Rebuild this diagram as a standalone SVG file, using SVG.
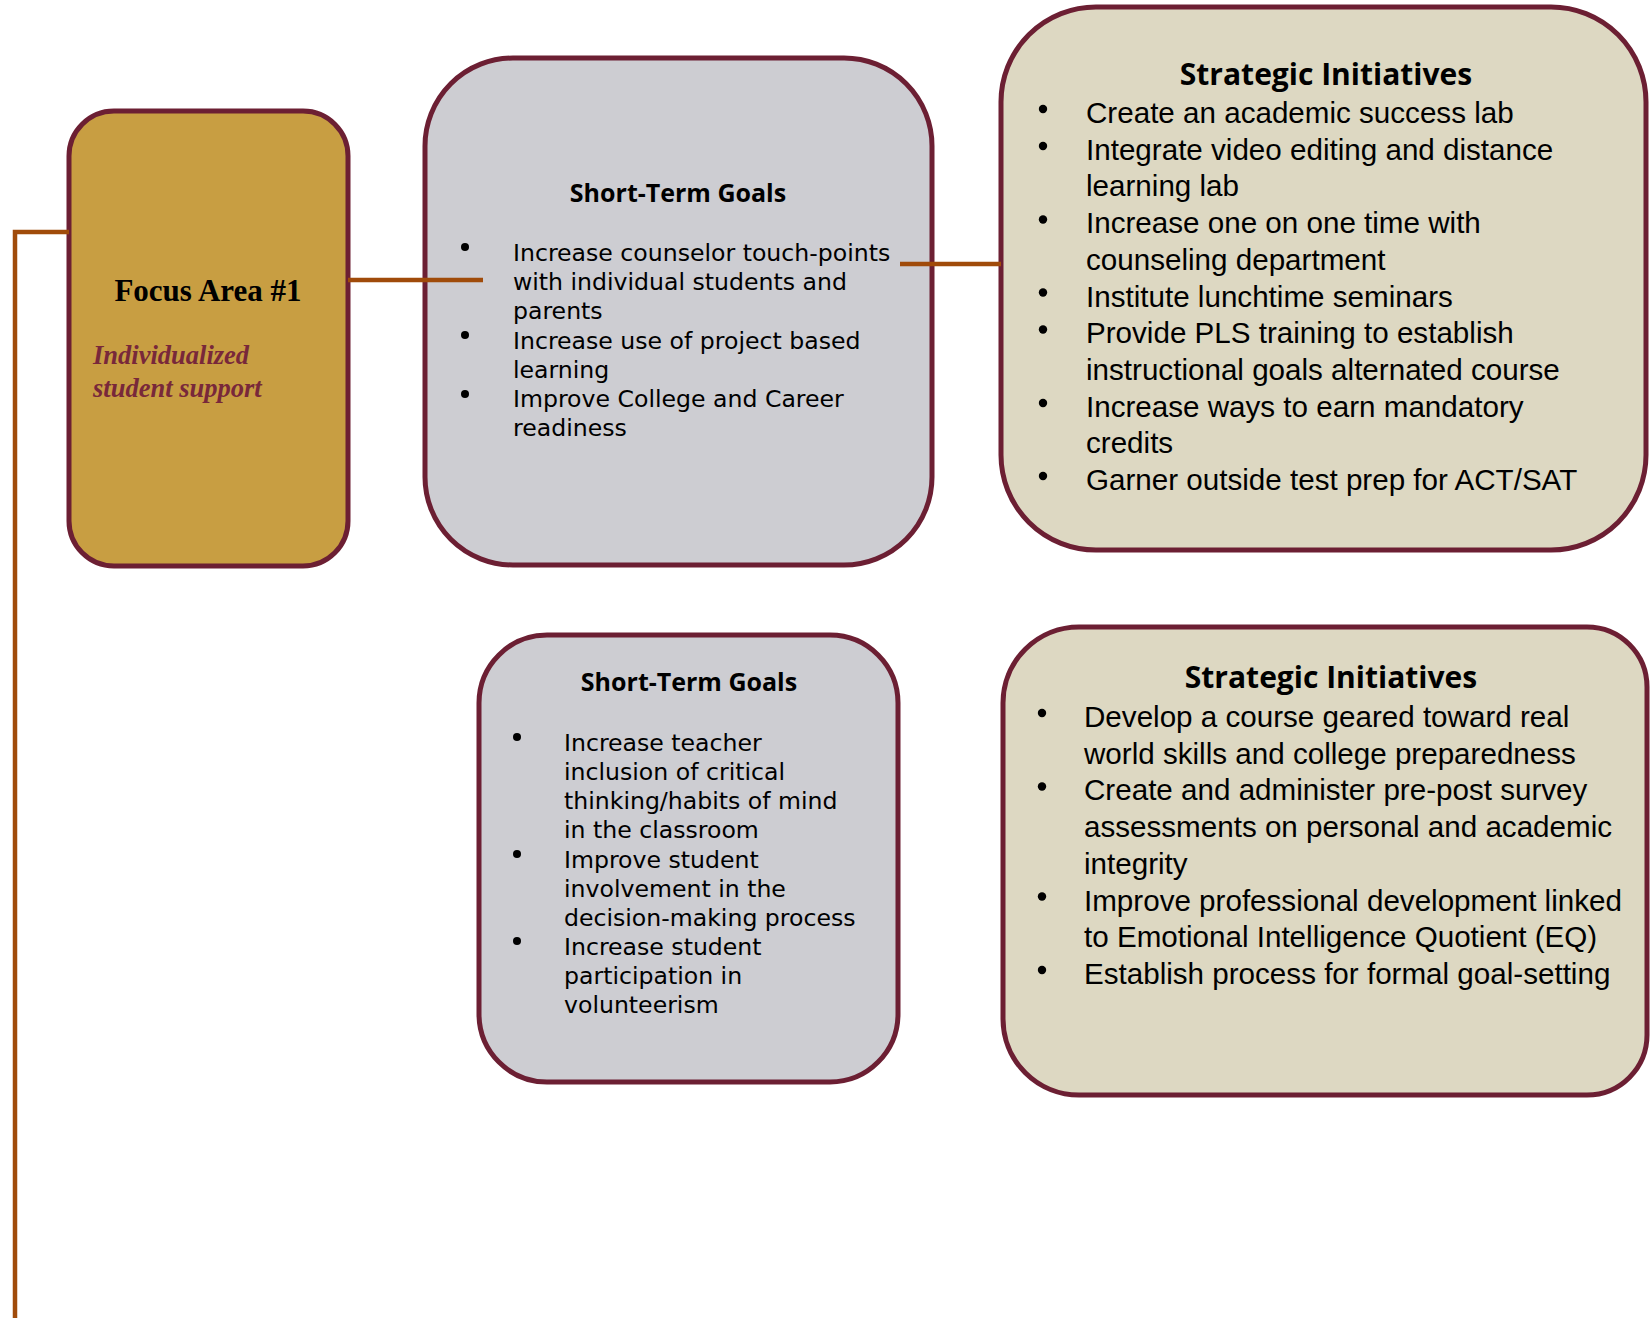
<svg xmlns="http://www.w3.org/2000/svg" width="1650" height="1318" viewBox="0 0 1650 1318">
  <style>
    .box { stroke: #6c1f33; stroke-width: 5; }
    .focus { fill: #c89e42; }
    .goals { fill: #cdcdd2; }
    .strat { fill: #ddd8c2; }
    .conn { fill: none; stroke: #a04b0a; stroke-width: 4.5; }
    .ftitle { font-family: "Liberation Serif", "Times New Roman", serif; font-weight: bold; font-size: 31px; fill: #000; }
    .fsub { font-family: "Liberation Serif", "Times New Roman", serif; font-weight: bold; font-style: italic; font-size: 26.5px; fill: #78283a; }
    .gtitle { font-family: "Open Sans", "Noto Sans", sans-serif; font-weight: bold; font-size: 25px; fill: #000; }
    .gbody { font-family: "DejaVu Sans", "Verdana", sans-serif; font-size: 23.6px; fill: #000; }
    .stitle { font-family: "Open Sans", "Noto Sans", sans-serif; font-weight: bold; font-size: 30px; fill: #000; }
    .sbody { font-family: "Liberation Sans", Arial, sans-serif; font-size: 29.6px; fill: #000; }
    .dot { fill: #000; }
  </style>

  <g id="focus-area-1">
    <rect class="box focus" x="69" y="111" width="279" height="455" rx="45" ry="45"/>
    <text class="ftitle" x="208" y="301" text-anchor="middle">Focus Area #1</text>
    <text class="fsub" x="93" y="364">Individualized</text>
    <text class="fsub" x="93" y="397">student support</text>
  </g>

  <g id="short-term-goals-1">
    <rect class="box goals" x="425" y="58" width="507" height="507" rx="88" ry="88"/>
    <text class="gtitle" x="678" y="202" text-anchor="middle">Short-Term Goals</text>
    <circle class="dot" cx="465" cy="247" r="4"/>
    <circle class="dot" cx="465" cy="335" r="4"/>
    <circle class="dot" cx="465" cy="394" r="4"/>
    <text class="gbody" x="513" y="261">Increase counselor touch-points</text>
    <text class="gbody" x="513" y="290">with individual students and</text>
    <text class="gbody" x="513" y="319">parents</text>
    <text class="gbody" x="513" y="348.5">Increase use of project based</text>
    <text class="gbody" x="513" y="377.5">learning</text>
    <text class="gbody" x="513" y="407">Improve College and Career</text>
    <text class="gbody" x="513" y="436">readiness</text>
  </g>

  <g id="strategic-initiatives-1">
    <rect class="box strat" x="1001" y="7" width="645" height="543" rx="95" ry="95"/>
    <text class="stitle" x="1326" y="85" text-anchor="middle">Strategic Initiatives</text>
    <circle class="dot" cx="1043" cy="109" r="4.2"/>
    <circle class="dot" cx="1043" cy="146" r="4.2"/>
    <circle class="dot" cx="1043" cy="219.5" r="4.2"/>
    <circle class="dot" cx="1043" cy="292.5" r="4.2"/>
    <circle class="dot" cx="1043" cy="329.5" r="4.2"/>
    <circle class="dot" cx="1043" cy="403" r="4.2"/>
    <circle class="dot" cx="1043" cy="476" r="4.2"/>
    <text class="sbody" x="1086" y="123">Create an academic success lab</text>
    <text class="sbody" x="1086" y="159.7">Integrate video editing and distance</text>
    <text class="sbody" x="1086" y="196.4">learning lab</text>
    <text class="sbody" x="1086" y="233.1">Increase one on one time with</text>
    <text class="sbody" x="1086" y="269.8">counseling department</text>
    <text class="sbody" x="1086" y="306.5">Institute lunchtime seminars</text>
    <text class="sbody" x="1086" y="343.2">Provide PLS training to establish</text>
    <text class="sbody" x="1086" y="379.9">instructional goals alternated course</text>
    <text class="sbody" x="1086" y="416.6">Increase ways to earn mandatory</text>
    <text class="sbody" x="1086" y="453.3">credits</text>
    <text class="sbody" x="1086" y="490">Garner outside test prep for ACT/SAT</text>
  </g>

  <g id="short-term-goals-2">
    <rect class="box goals" x="479" y="635" width="419" height="447" rx="68" ry="68"/>
    <text class="gtitle" x="689" y="691" text-anchor="middle">Short-Term Goals</text>
    <circle class="dot" cx="517" cy="737" r="4"/>
    <circle class="dot" cx="517" cy="854" r="4"/>
    <circle class="dot" cx="517" cy="941" r="4"/>
    <text class="gbody" x="564" y="751">Increase teacher</text>
    <text class="gbody" x="564" y="780">inclusion of critical</text>
    <text class="gbody" x="564" y="809">thinking/habits of mind</text>
    <text class="gbody" x="564" y="838">in the classroom</text>
    <text class="gbody" x="564" y="868">Improve student</text>
    <text class="gbody" x="564" y="897">involvement in the</text>
    <text class="gbody" x="564" y="926">decision-making process</text>
    <text class="gbody" x="564" y="955">Increase student</text>
    <text class="gbody" x="564" y="984">participation in</text>
    <text class="gbody" x="564" y="1013">volunteerism</text>
  </g>

  <g id="strategic-initiatives-2">
    <path class="box strat" d="M 1079 627 H 1587 A 60 60 0 0 1 1647 687 V 1035 A 60 60 0 0 1 1587 1095 H 1079 A 76 76 0 0 1 1003 1019 V 703 A 76 76 0 0 1 1079 627 Z"/>
    <text class="stitle" x="1331" y="688" text-anchor="middle">Strategic Initiatives</text>
    <circle class="dot" cx="1042" cy="713" r="4.2"/>
    <circle class="dot" cx="1042" cy="786.5" r="4.2"/>
    <circle class="dot" cx="1042" cy="896.5" r="4.2"/>
    <circle class="dot" cx="1042" cy="970" r="4.2"/>
    <text class="sbody" x="1084" y="727">Develop a course geared toward real</text>
    <text class="sbody" x="1084" y="763.7">world skills and college preparedness</text>
    <text class="sbody" x="1084" y="800.4">Create and administer pre-post survey</text>
    <text class="sbody" x="1084" y="837.1">assessments on personal and academic</text>
    <text class="sbody" x="1084" y="873.8">integrity</text>
    <text class="sbody" x="1084" y="910.5">Improve professional development linked</text>
    <text class="sbody" x="1084" y="947.2">to Emotional Intelligence Quotient (EQ)</text>
    <text class="sbody" x="1084" y="983.9">Establish process for formal goal-setting</text>
  </g>

  <g id="connectors">
    <path class="conn" d="M 15 1318 V 232 H 69" stroke-width="4"/>
    <path class="conn" d="M 348 280 H 483"/>
    <path class="conn" d="M 900 264 H 1001"/>
  </g>
</svg>
